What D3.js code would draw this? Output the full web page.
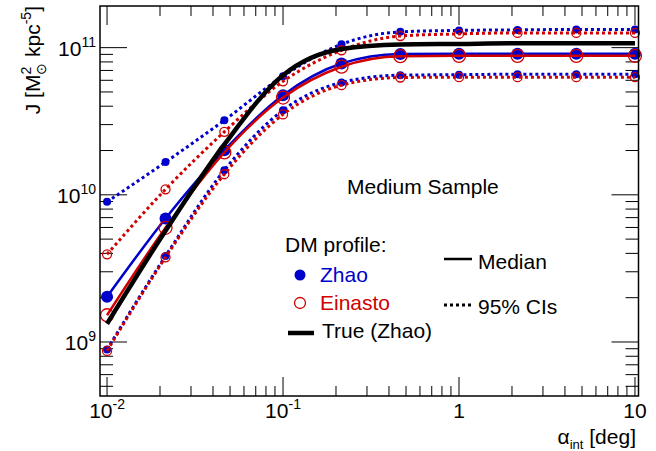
<!DOCTYPE html>
<html><head><meta charset="utf-8">
<script src="https://cdn.jsdelivr.net/npm/d3@7"></script>
<style>body{margin:0;background:#fff}svg{display:block}text{font-family:"Liberation Sans",Arial,Helvetica,sans-serif}</style>
</head><body><svg id="c" width="656" height="451"></svg>
<script>
// ---- data ----
const alpha = [0.01, 0.0215, 0.0464, 0.1, 0.215, 0.464, 1, 2.15, 4.64, 10];
const zhaoMedian = [2.03e9, 6.9e9, 2.01e10, 4.75e10, 7.8e10, 9.05e10, 9.1e10, 9.1e10, 9.1e10, 9.1e10];
const zhaoLow    = [8.9e8, 3.84e9, 1.47e10, 3.76e10, 5.8e10, 6.5e10, 6.55e10, 6.6e10, 6.6e10, 6.6e10];
const zhaoHigh   = [8.96e9, 1.67e10, 3.21e10, 6.4e10, 1.055e11, 1.28e11, 1.31e11, 1.32e11, 1.33e11, 1.33e11];
const einMedian  = [1.52e9, 5.97e9, 1.94e10, 4.58e10, 7.42e10, 8.75e10, 8.8e10, 8.8e10, 8.8e10, 8.8e10];
const einLow     = [8.7e8, 3.76e9, 1.38e10, 3.52e10, 5.56e10, 6.27e10, 6.3e10, 6.3e10, 6.3e10, 6.3e10];
const einHigh    = [3.94e9, 1.09e10, 2.68e10, 5.9e10, 9.6e10, 1.2e11, 1.24e11, 1.26e11, 1.26e11, 1.26e11];
const trueZhao   = [1.33e9, 5.7e9, 2.2e10, 6.5e10, 9.8e10, 1.05e11, 1.06e11, 1.07e11, 1.07e11, 1.07e11];
const xTickLabels = [["10","-2"],["10","-1"],["1",""],["10",""]];
const yTickLabels = [["10","9"],["10","10"],["10","11"]];

// ---- layout ----
const svg = d3.select("#c");
const L = 100, R = 638.5, T = 6, B = 396;
const BLUE = "#0000cc", RED = "#d00000";
const x = d3.scaleLog().domain([Math.pow(10,-2.04), Math.pow(10,1.02)]).range([L, R]);
const y = d3.scaleLog().domain([Math.pow(10,8.633), Math.pow(10,11.283)]).range([B, T]);

// ticks
const g = svg.append("g").attr("stroke","#000").attr("stroke-width",1);
const xMajor = [0.01,0.1,1,10], yMajor=[1e9,1e10,1e11];
const xMinor=[], yMinor=[];
[0.01,0.1,1].forEach(d=>{for(let k=2;k<10;k++){const v=d*k; if(v<=x.domain()[1]) xMinor.push(v);}});
[1e8,1e9,1e10,1e11].forEach(d=>{for(let k=2;k<10;k++){const v=d*k; if(v>=y.domain()[0]&&v<=y.domain()[1]) yMinor.push(v);}});
xMajor.forEach(v=>{g.append("line").attr("x1",x(v)).attr("x2",x(v)).attr("y1",B).attr("y2",B-19);
  g.append("line").attr("x1",x(v)).attr("x2",x(v)).attr("y1",T).attr("y2",T+19);});
xMinor.forEach(v=>{g.append("line").attr("x1",x(v)).attr("x2",x(v)).attr("y1",B).attr("y2",B-10);
  g.append("line").attr("x1",x(v)).attr("x2",x(v)).attr("y1",T).attr("y2",T+10);});
yMajor.forEach(v=>{g.append("line").attr("x1",L).attr("x2",L+27).attr("y1",y(v)).attr("y2",y(v));
  g.append("line").attr("x1",R).attr("x2",R-27).attr("y1",y(v)).attr("y2",y(v));});
yMinor.forEach(v=>{g.append("line").attr("x1",L).attr("x2",L+13).attr("y1",y(v)).attr("y2",y(v));
  g.append("line").attr("x1",R).attr("x2",R-13).attr("y1",y(v)).attr("y2",y(v));});

// tick labels
xMajor.forEach((v,i)=>{
  const t = svg.append("text").attr("x",x(v)).attr("y",418).attr("text-anchor","middle").attr("font-size",21);
  t.append("tspan").text(xTickLabels[i][0]);
  if (xTickLabels[i][1]) t.append("tspan").attr("font-size",14).attr("dy",-9).text(xTickLabels[i][1]);
});
yMajor.forEach((v,i)=>{
  const t = svg.append("text").attr("x",96).attr("y",y(v)+8).attr("text-anchor","end").attr("font-size",21);
  t.append("tspan").text(yTickLabels[i][0]);
  t.append("tspan").attr("font-size",14).attr("dy",-9).text(yTickLabels[i][1]);
});

// axis titles
const xt = svg.append("text").attr("x",636).attr("y",444).attr("text-anchor","end").attr("font-size",21);
xt.append("tspan").text("α");
xt.append("tspan").attr("font-size",13).attr("dy",5).text("int");
xt.append("tspan").attr("dy",-5).text(" [deg]");
const yt = svg.append("text").attr("transform","translate(40,6) rotate(-90)").attr("text-anchor","end").attr("font-size",21);
yt.append("tspan").text("J [M");
yt.append("tspan").attr("font-size",14).attr("dy",-9).text("2");
yt.append("tspan").attr("font-size",14).attr("dx",-8).attr("dy",15).text("⊙");
yt.append("tspan").attr("dy",-6).text(" kpc");
yt.append("tspan").attr("font-size",14).attr("dy",-9).text("-5");
yt.append("tspan").attr("dy",9).text("]");

// series
const plot = svg.append("g");
const line = d3.line().x(d=>x(d[0])).y(d=>y(d[1])).curve(d3.curveMonotoneX);
function series(vals, color, width, dash){
  plot.append("path").datum(alpha.map((a,i)=>[a,vals[i]])).attr("d",line)
    .attr("fill","none").attr("stroke",color).attr("stroke-width",width)
    .attr("stroke-dasharray",dash||null);
}
function markers(vals, color, r, filled){
  plot.selectAll(null).data(alpha.map((a,i)=>[a,vals[i]])).enter().append("circle")
    .attr("cx",d=>x(d[0])).attr("cy",d=>y(d[1])).attr("r",r)
    .attr("fill",filled?color:"none").attr("stroke",color).attr("stroke-width",filled?0:1.3);
}
series(zhaoHigh, BLUE, 3, "3,3"); markers(zhaoHigh, BLUE, 4, true);
series(zhaoLow, BLUE, 3, "3,3"); markers(zhaoLow, BLUE, 4, true);
series(einHigh, RED, 3, "3,3"); markers(einHigh, RED, 4.5, false);
series(einLow, RED, 3, "3,3"); markers(einLow, RED, 4.5, false);
series(zhaoMedian, BLUE, 2.5); markers(zhaoMedian, BLUE, 6, true);
series(einMedian, RED, 2.5); markers(einMedian, RED, 6.5, false);
series(trueZhao, "#000", 4.5);

// frame
svg.append("rect").attr("x",L).attr("y",T).attr("width",R-L).attr("height",B-T)
  .attr("fill","none").attr("stroke","#000").attr("stroke-width",1.5);

// annotations / legend
svg.append("text").attr("x",347).attr("y",194).attr("font-size",21).text("Medium Sample");
svg.append("text").attr("x",285).attr("y",252).attr("font-size",21).text("DM profile:");
svg.append("circle").attr("cx",300).attr("cy",275).attr("r",5.5).attr("fill",BLUE);
svg.append("text").attr("x",320).attr("y",282).attr("font-size",21).attr("fill",BLUE).text("Zhao");
svg.append("circle").attr("cx",300).attr("cy",303).attr("r",5.5).attr("fill","none").attr("stroke",RED).attr("stroke-width",1.3);
svg.append("text").attr("x",320).attr("y",310).attr("font-size",21).attr("fill",RED).text("Einasto");
svg.append("line").attr("x1",288).attr("x2",314).attr("y1",333).attr("y2",333).attr("stroke","#000").attr("stroke-width",4.5);
svg.append("text").attr("x",322).attr("y",338).attr("font-size",21).text("True (Zhao)");
svg.append("line").attr("x1",444).attr("x2",472).attr("y1",259).attr("y2",259).attr("stroke","#000").attr("stroke-width",2.5);
svg.append("text").attr("x",478).attr("y",269).attr("font-size",21).text("Median");
svg.append("line").attr("x1",444).attr("x2",472).attr("y1",305).attr("y2",305).attr("stroke","#000").attr("stroke-width",3).attr("stroke-dasharray","3,3");
svg.append("text").attr("x",478).attr("y",314).attr("font-size",21).text("95% CIs");
</script></body></html>
